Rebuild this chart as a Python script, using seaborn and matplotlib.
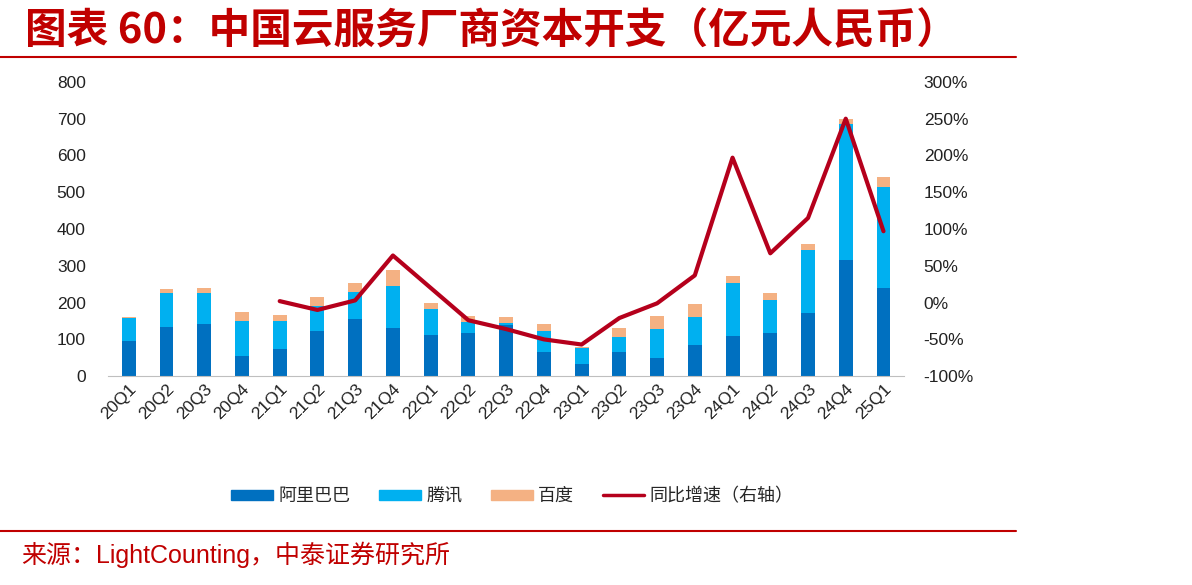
import numpy as np
import pandas as pd
import seaborn as sns
import matplotlib.pyplot as plt
from matplotlib.lines import Line2D
from matplotlib.patches import Patch
from matplotlib.ticker import FuncFormatter

quarters = ['20Q1', '20Q2', '20Q3', '20Q4', '21Q1', '21Q2', '21Q3', '21Q4',
            '22Q1', '22Q2', '22Q3', '22Q4', '23Q1', '23Q2', '23Q3', '23Q4',
            '24Q1', '24Q2', '24Q3', '24Q4', '25Q1']
alibaba = [95, 134, 141, 55, 73, 122, 156, 130, 112, 116, 138, 66, 32, 66, 50, 86,
           108, 118, 172, 315, 240]
tencent = [63, 93, 84, 96, 78, 68, 73, 115, 71, 31, 7, 56, 45, 40, 79, 74,
           144, 88, 171, 370, 275]
baidu = [3, 9, 15, 23, 15, 26, 23, 43, 17, 16, 17, 20, 3, 25, 34, 35,
         20, 20, 16, 13, 27]
yoy = [np.nan, np.nan, np.nan, np.nan, 2, -10, 3, 64, 20, -24, -36, -50, -57, -21, -1, 37,
       197, 67, 115, 250, 97]

c_ali = '#0070C0'
c_ten = '#00B0F0'
c_bai = '#F4B183'
c_line = '#B5001C'
red = '#C00000'

sns.set_style('white')
plt.rcParams['font.family'] = ['Liberation Sans', 'Noto Sans CJK SC', 'DejaVu Sans']

df = pd.DataFrame({'q': quarters, 'ali': alibaba, 'ten': tencent, 'bai': baidu, 'yoy': yoy})
df['ali_ten'] = df.ali + df.ten

fig = plt.figure(figsize=(11.92, 5.85), dpi=100)
ax = fig.add_axes([0.0906, 0.357, 0.668, 0.503])

w = 0.37
sns.barplot(data=df, x='q', y='ali', color=c_ali, width=w, ax=ax, saturation=1, linewidth=0)
sns.barplot(data=df, x='q', y='ten', bottom=df.ali, color=c_ten, width=w, ax=ax,
            saturation=1, linewidth=0)
sns.barplot(data=df, x='q', y='bai', bottom=df.ali_ten, color=c_bai, width=w, ax=ax,
            saturation=1, linewidth=0)

ax.set_ylim(0, 800)
ax.set_yticks(range(0, 801, 100))
ax.set_xlim(-0.55, len(quarters) - 0.45)
ax.set_xlabel('')
ax.set_ylabel('')
for s in ['top', 'right', 'left']:
    ax.spines[s].set_visible(False)
ax.spines['bottom'].set_color('#BFBFBF')
ax.tick_params(axis='y', labelsize=12.5, colors='#222222', length=0, pad=16)
ax.tick_params(axis='x', labelsize=12.5, colors='#222222', length=0, pad=4)
plt.setp(ax.get_xticklabels(), rotation=45, ha='right', rotation_mode='anchor')

ax2 = ax.twinx()
sns.lineplot(x=np.arange(len(quarters)), y=df.yoy, color=c_line, linewidth=3, ax=ax2)
ax2.set_ylim(-100, 300)
ax2.set_yticks(range(-100, 301, 50))
ax2.yaxis.set_major_formatter(FuncFormatter(lambda v, p: f'{v:.0f}%'))
ax2.set_ylabel('')
for s in ['top', 'right', 'left', 'bottom']:
    ax2.spines[s].set_visible(False)
ax2.tick_params(axis='y', labelsize=12.5, colors='#222222', length=0, pad=14)

handles = [Patch(color=c_ali), Patch(color=c_ten), Patch(color=c_bai),
           Line2D([0], [0], color=c_line, linewidth=2.5)]
labels = ['阿里巴巴', '腾讯', '百度', '同比增速（右轴）']
fig.legend(handles, labels, loc='center', bbox_to_anchor=(0.43, 0.152), ncol=4,
           frameon=False, fontsize=13, handlelength=2.3, handleheight=0.45,
           handletextpad=0.3, columnspacing=1.6,
           prop={'family': ['Noto Sans CJK SC'], 'size': 13})

fig.text(0.021, 0.947, '图表 60：中国云服务厂商资本开支（亿元人民币）', fontsize=30,
         color=red, fontweight='bold', va='center', ha='left',
         family=['Noto Sans CJK SC', 'DejaVu Sans'])
fig.add_artist(Line2D([0, 0.852], [0.9026, 0.9026], color=red, linewidth=1.5))
fig.add_artist(Line2D([0, 0.852], [0.0923, 0.0923], color=red, linewidth=1.5))
fig.text(0.018, 0.051, '来源：LightCounting，中泰证券研究所', fontsize=18,
         color=red, va='center', ha='left')

fig.savefig('out.png', dpi=100)
